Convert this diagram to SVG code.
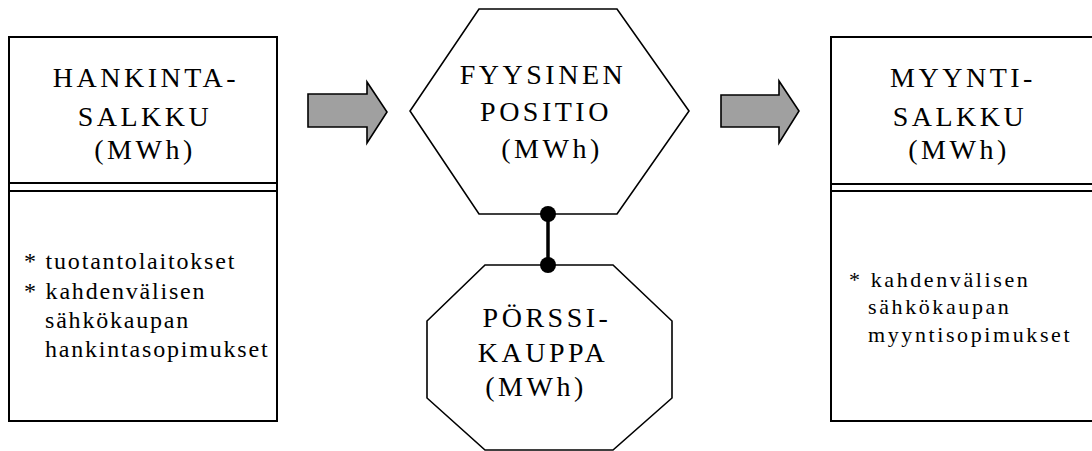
<svg xmlns="http://www.w3.org/2000/svg" width="1092" height="451" viewBox="0 0 1092 451">
<style>
.box{fill:#fff;stroke:#000;stroke-width:2}
.shape{fill:#fff;stroke:#000;stroke-width:1.6}
.div{stroke:#000;stroke-width:1.8}
.arrow{fill:#a0a0a0;stroke:#000;stroke-width:1.6;stroke-linejoin:miter}
text{font-family:'Liberation Serif','Times New Roman',Times,serif;fill:#000}
.t{font-size:28px;letter-spacing:3.5px;text-anchor:middle}
.s{font-size:24px;letter-spacing:1.8px}
.s2{font-size:22px;letter-spacing:2.6px}
</style>
<rect width="1092" height="451" fill="#fff"/>
<g id="hankinta">
<rect class="box" x="9" y="37" width="268" height="384"/>
<line class="div" x1="9" y1="183" x2="277" y2="183"/>
<line class="div" x1="9" y1="191" x2="277" y2="191"/>
<text class="t" x="146" y="87">HANKINTA-</text>
<text class="t" x="145" y="126">SALKKU</text>
<text class="t" x="145" y="159">(MWh)</text>
<text class="s" x="24" y="269">* tuotantolaitokset</text>
<text class="s" x="24" y="299">* kahdenvälisen</text>
<text class="s" x="45" y="328">sähkökaupan</text>
<text class="s" x="45" y="357">hankintasopimukset</text>
</g>
<g id="fyysinen">
<polygon class="shape" points="479,9 617,9 689,111 617,214 479,214 410,111"/>
<text class="t" x="543" y="84">FYYSINEN</text>
<text class="t" x="546" y="121">POSITIO</text>
<text class="t" x="552" y="158">(MWh)</text>
</g>
<g id="porssi">
<polygon class="shape" points="485,265 613,265 672,321 672,398 613,450 485,450 427,398 427,321"/>
<text class="t" x="547" y="327">PÖRSSI-</text>
<text class="t" x="543" y="362">KAUPPA</text>
<text class="t" x="536" y="396">(MWh)</text>
</g>
<g id="myynti">
<rect class="box" x="831" y="37" width="275" height="384"/>
<line class="div" x1="831" y1="184" x2="1092" y2="184"/>
<line class="div" x1="831" y1="191" x2="1092" y2="191"/>
<text class="t" x="963" y="87">MYYNTI-</text>
<text class="t" x="960" y="126">SALKKU</text>
<text class="t" x="959" y="159">(MWh)</text>
<text class="s2" x="849" y="287">* kahdenvälisen</text>
<text class="s2" x="868" y="314">sähkökaupan</text>
<text class="s2" x="868" y="342">myyntisopimukset</text>
</g>
<g id="connectors">
<polygon class="arrow" points="308,94 367,94 367,82 387,112 367,143 367,127 308,127"/>
<polygon class="arrow" points="721,95 779,95 779,81 799,111 779,143 779,127 721,127"/>
<line x1="548" y1="214" x2="548" y2="265" stroke="#000" stroke-width="3.5"/>
<circle cx="548" cy="214" r="8" fill="#000"/>
<circle cx="548" cy="265" r="8" fill="#000"/>
</g>
</svg>
